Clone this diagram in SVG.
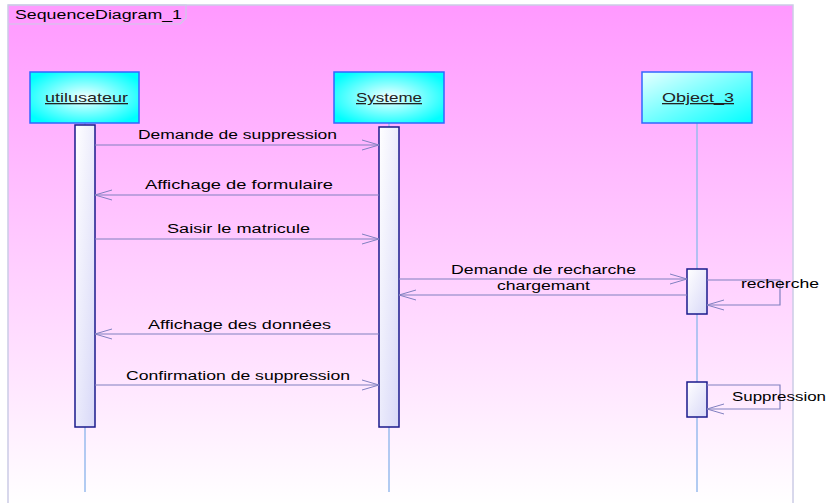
<svg xmlns="http://www.w3.org/2000/svg" width="826" height="503" viewBox="0 0 826 503">
<defs>
<linearGradient id="bg" x1="0" y1="0" x2="0" y2="1">
<stop offset="0" stop-color="#FF99FF"/>
<stop offset="1" stop-color="#FFFFFF"/>
</linearGradient>
<radialGradient id="cyanR" cx="0.5" cy="0.5" r="0.6">
<stop offset="0" stop-color="#F4FFFF"/>
<stop offset="1" stop-color="#00FFFF"/>
</radialGradient>
<linearGradient id="cyanL" x1="0" y1="0" x2="1" y2="1">
<stop offset="0" stop-color="#E8FFFF"/>
<stop offset="1" stop-color="#00FFFF"/>
</linearGradient>
<linearGradient id="act" x1="0" y1="0" x2="1" y2="1">
<stop offset="0" stop-color="#FFFFFF"/>
<stop offset="1" stop-color="#D8D8F8"/>
</linearGradient>
<marker id="open" markerWidth="18" markerHeight="12" refX="17" refY="6" orient="auto" markerUnits="userSpaceOnUse">
<path d="M0,1 L17,6 L0,11" fill="none" stroke="#8080C0" stroke-width="1"/>
</marker>
</defs>
<style>
.lbl{font-family:"Liberation Sans",Arial,sans-serif;font-size:12.5px;fill:#000}
.name{font-family:"Liberation Sans",Arial,sans-serif;font-size:13px;fill:#222;text-decoration:underline}
.box{stroke:#3366FF;stroke-width:1.5}
.act{fill:url(#act);stroke:#1A1A8C;stroke-width:1.5}
.life{stroke:#99BBEE;stroke-width:1.5}
.msg{stroke:#8080C0;stroke-width:1.2;fill:none;marker-end:url(#open)}
</style>
<rect x="0" y="0" width="826" height="503" fill="#FFFFFF"/>
<g id="frame">
<rect x="8" y="5" width="785" height="500" fill="url(#bg)" stroke="#CCCCE6" stroke-width="1.5"/>
<path d="M8,5 L186,5 L186,18 L180,24 L8,24" fill="none" stroke="#CCCCE6" stroke-width="1.2"/>
<text class="lbl" x="15" y="19" textLength="167" lengthAdjust="spacingAndGlyphs" font-size="13">SequenceDiagram_1</text>
</g>
<g id="utilusateur">
<line class="life" x1="85" y1="123" x2="85" y2="492"/>
<rect class="box" x="30" y="72" width="109" height="51" fill="url(#cyanR)"/>
<text class="name" x="45" y="102" textLength="83" lengthAdjust="spacingAndGlyphs">utilusateur</text>
<rect class="act" x="75" y="125" width="20" height="302"/>
</g>
<g id="systeme">
<line class="life" x1="389" y1="123" x2="389" y2="492"/>
<rect class="box" x="334" y="72" width="110" height="51" fill="url(#cyanR)"/>
<text class="name" x="356" y="102" textLength="66" lengthAdjust="spacingAndGlyphs">Systeme</text>
<rect class="act" x="379" y="127" width="20" height="300"/>
</g>
<g id="object_3">
<line class="life" x1="697" y1="123" x2="697" y2="492"/>
<rect class="box" x="642" y="72" width="110" height="51" fill="url(#cyanL)"/>
<text class="name" x="662" y="102" textLength="72" lengthAdjust="spacingAndGlyphs">Object_3</text>
<rect class="act" x="687" y="269" width="20" height="45"/>
<rect class="act" x="687" y="382" width="20" height="35"/>
</g>
<g id="connectors">
<line class="msg" x1="95" y1="145" x2="379" y2="145"/>
<text class="lbl" x="138" y="139" textLength="199" lengthAdjust="spacingAndGlyphs">Demande de suppression</text>
<line class="msg" x1="379" y1="195" x2="95" y2="195"/>
<text class="lbl" x="145" y="189" textLength="188" lengthAdjust="spacingAndGlyphs">Affichage de formulaire</text>
<line class="msg" x1="95" y1="239" x2="379" y2="239"/>
<text class="lbl" x="167" y="233" textLength="143" lengthAdjust="spacingAndGlyphs">Saisir le matricule</text>
<line class="msg" x1="399" y1="279" x2="687" y2="279"/>
<text class="lbl" x="451" y="274" textLength="185" lengthAdjust="spacingAndGlyphs">Demande de recharche</text>
<line class="msg" x1="687" y1="295" x2="399" y2="295"/>
<text class="lbl" x="497" y="290" textLength="93" lengthAdjust="spacingAndGlyphs">chargemant</text>
<path class="msg" d="M707,280 L780,280 L780,305 L707,305"/>
<text class="lbl" x="741" y="288" textLength="78" lengthAdjust="spacingAndGlyphs">recherche</text>
<line class="msg" x1="379" y1="334" x2="95" y2="334"/>
<text class="lbl" x="148" y="329" textLength="183" lengthAdjust="spacingAndGlyphs">Affichage des données</text>
<line class="msg" x1="95" y1="385" x2="379" y2="385"/>
<text class="lbl" x="126" y="380" textLength="224" lengthAdjust="spacingAndGlyphs">Confirmation de suppression</text>
<path class="msg" d="M707,385 L780,385 L780,409 L707,409"/>
<text class="lbl" x="732" y="401" textLength="94" lengthAdjust="spacingAndGlyphs">Suppression</text>
</g>
</svg>
